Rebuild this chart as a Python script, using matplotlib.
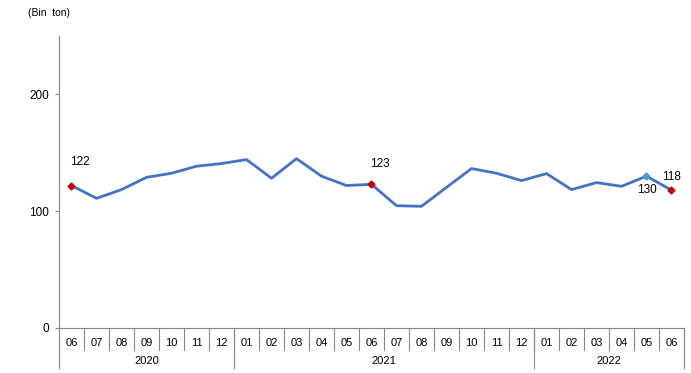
import matplotlib.pyplot as plt
import matplotlib.transforms as mtransforms

plt.rcParams['font.family'] = ['Liberation Sans', 'DejaVu Sans']

# aylik veriler (Bin ton)
aylar = ["06", "07", "08", "09", "10", "11", "12",
         "01", "02", "03", "04", "05", "06", "07", "08", "09", "10", "11", "12",
         "01", "02", "03", "04", "05", "06"]
yillar = ["2020", "2021", "2022"]
yil_ay_sayisi = [7, 12, 6]
degerler = [122, 111, 118.5, 129, 132.5, 138.5, 140.8, 144.2, 128.2, 145, 130, 122, 123,
            104.7, 104.2, 120.4, 136.5, 132.5, 126.2, 132.2, 118.5, 124.5, 121.3, 130, 118]
kirmizi_idx = [0, 12, 24]
mavi_idx = [23]

MAVI = "#4472C4"
KIRMIZI = "#C00000"
GRI = "#868686"

fig = plt.figure(figsize=(6.91, 3.73), dpi=100)
ax = fig.add_axes([59 / 691, 45 / 373, 625 / 691, 292 / 373])

X = list(range(len(degerler)))
ax.plot(X, degerler, color=MAVI, lw=2, zorder=3)
ax.plot([X[i] for i in kirmizi_idx], [degerler[i] for i in kirmizi_idx],
        ls="none", marker="D", ms=3.5, color=KIRMIZI, zorder=4)
ax.plot([X[i] for i in mavi_idx], [degerler[i] for i in mavi_idx],
        ls="none", marker="D", ms=3.5, color="#4F9BD1", zorder=4)

ax.set_xlim(-0.5, len(degerler) - 0.5)
ax.set_ylim(0, 250)
ax.set_yticks([0, 100, 200])
ax.tick_params(axis="y", length=3, color=GRI, labelsize=8.5, pad=4)
ax.set_xticks([])

for s in ["top", "right"]:
    ax.spines[s].set_visible(False)
ax.spines["left"].set_color(GRI)
ax.spines["bottom"].set_color(GRI)

# veri etiketleri
etiketler = {0: (-1, 17, "left"), 12: (-1, 15, "left"), 23: (0, -10, "center"), 24: (0, 9.5, "center")}
for i, (dx, dy, ha) in etiketler.items():
    ax.annotate(f"{round(degerler[i])}", (X[i], degerler[i]), xytext=(dx, dy),
                textcoords="offset points", ha=ha, va="center", fontsize=8.5)

# kategori ekseni: ay ve yil satirlari
trans = mtransforms.blended_transform_factory(ax.transData, ax.transAxes)
for i, ay in enumerate(aylar):
    ax.text(X[i], -0.051, ay, transform=trans, ha="center", va="center", fontsize=8)

for i in range(1, len(aylar) + 1):
    ax.plot([i - 0.5, i - 0.5], [0, -0.075], transform=trans, color=GRI, lw=0.8, clip_on=False)

bas = 0
for yil, n in zip(yillar, yil_ay_sayisi):
    son = bas + n
    ax.plot([son - 0.5, son - 0.5], [0, -0.137], transform=trans, color=GRI, lw=0.8, clip_on=False)
    ax.text((bas + son - 1) / 2, -0.113, yil, transform=trans, ha="center", va="center", fontsize=8)
    bas = son
ax.plot([-0.5, -0.5], [0, -0.137], transform=trans, color=GRI, lw=0.8, clip_on=False)

fig.text(28 / 691, 1 - 13 / 373, "(Bin  ton)", fontsize=7.5, va="center", ha="left")

fig.savefig("out.png", dpi=100)
